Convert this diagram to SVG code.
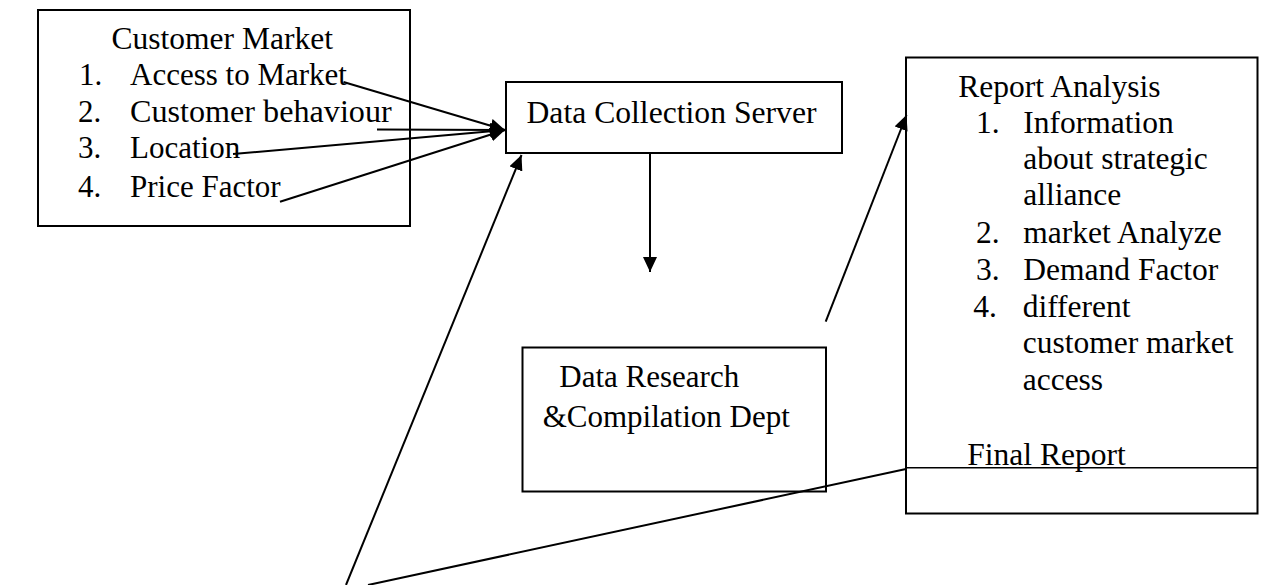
<svg xmlns="http://www.w3.org/2000/svg" width="1263" height="585" viewBox="0 0 1263 585">
<defs>
<style>
.box{fill:#fff;stroke:#000;stroke-width:2}
.t{font-family:"Liberation Serif","Times New Roman",serif;font-size:31px;fill:#000}
.r{font-size:31.5px}
.c{stroke:#000;stroke-width:2;fill:none}
</style>
<marker id="ah" markerUnits="userSpaceOnUse" markerWidth="16" markerHeight="14" refX="15" refY="7" orient="auto">
<path d="M0,0 L15,7 L0,14 z" fill="#000"/>
</marker>
</defs>
<rect width="1263" height="585" fill="#fff"/>
<g id="customer-market">
<rect class="box" x="38" y="10" width="372" height="216"/>
<text class="t" x="111.5" y="49" textLength="221.5" lengthAdjust="spacingAndGlyphs">Customer Market</text>
<text class="t" x="79" y="85">1.</text><text class="t" x="130" y="85">Access to Market</text>
<text class="t" x="78" y="121.7">2.</text><text class="t" x="130" y="121.7" textLength="261.7" lengthAdjust="spacingAndGlyphs">Customer behaviour</text>
<text class="t" x="78" y="158.3">3.</text><text class="t" x="130" y="158.3">Location</text>
<text class="t" x="78" y="196.7">4.</text><text class="t" x="130" y="196.7">Price Factor</text>
</g>
<g id="data-collection-server">
<rect class="box" x="506" y="82" width="336" height="71"/>
<text class="t" x="526.5" y="123.3" textLength="290" lengthAdjust="spacingAndGlyphs">Data Collection Server</text>
</g>
<g id="data-research">
<rect class="box" x="522.5" y="347.5" width="303.5" height="144"/>
<text class="t" x="559.3" y="387.3">Data Research</text>
<text class="t" x="542.7" y="426.7">&amp;Compilation Dept</text>
</g>
<g id="report-analysis">
<rect class="box" x="906" y="57.5" width="351.5" height="456"/>
<line x1="906" y1="467.7" x2="1257.5" y2="467.7" stroke="#000" stroke-width="1.6"/>
<text class="t r" x="958.3" y="96.7">Report Analysis</text>
<text class="t r" x="976" y="133.3">1.</text><text class="t r" x="1023.3" y="133.3">Information</text>
<text class="t r" x="1023.3" y="169">about strategic</text>
<text class="t r" x="1023.3" y="205">alliance</text>
<text class="t r" x="976" y="242.7">2.</text><text class="t r" x="1023.3" y="242.7">market Analyze</text>
<text class="t r" x="976" y="280">3.</text><text class="t r" x="1023.3" y="280">Demand Factor</text>
<text class="t r" x="973.3" y="316.7">4.</text><text class="t r" x="1022.7" y="316.7">different</text>
<text class="t r" x="1022.7" y="353.3">customer market</text>
<text class="t r" x="1022.7" y="390">access</text>
<text class="t r" x="967.3" y="465">Final Report</text>
</g>
<g id="connectors">
<line class="c" x1="343.5" y1="82" x2="505" y2="130" marker-end="url(#ah)"/>
<line class="c" x1="377" y1="129.5" x2="505" y2="130" marker-end="url(#ah)"/>
<line class="c" x1="233" y1="154" x2="505" y2="130" marker-end="url(#ah)"/>
<line class="c" x1="280" y1="201.7" x2="505" y2="130" marker-end="url(#ah)"/>
<line class="c" x1="650" y1="153" x2="650" y2="272" marker-end="url(#ah)"/>
<line class="c" x1="346" y1="585" x2="521.5" y2="155" marker-end="url(#ah)"/>
<line class="c" x1="825.7" y1="321.7" x2="906.5" y2="115" marker-end="url(#ah)"/>
<line class="c" x1="368" y1="585" x2="906" y2="469"/>
</g>
</svg>
